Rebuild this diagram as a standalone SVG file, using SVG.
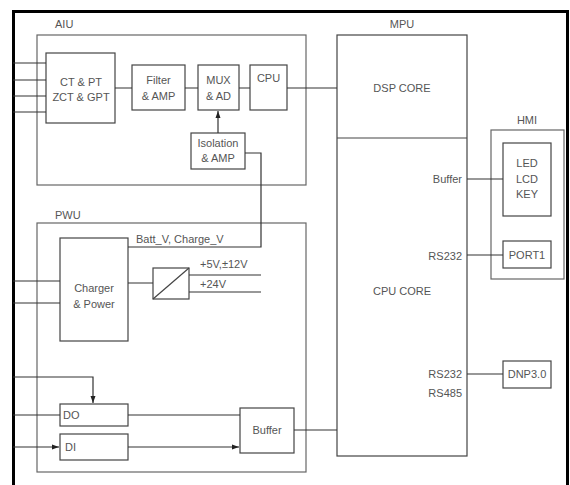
<svg xmlns="http://www.w3.org/2000/svg" width="570" height="485" viewBox="0 0 570 485">
<style>
.b{fill:none;stroke:#444;stroke-width:1.2}
.g{fill:none;stroke:#666;stroke-width:1.2}
.l{fill:none;stroke:#333;stroke-width:1.2}
text{font-family:"Liberation Sans",Arial,sans-serif;font-size:11px;fill:#555}
.c{text-anchor:middle}
.r{text-anchor:end}
</style>
<defs>
<marker id="a" markerWidth="8" markerHeight="6" refX="7" refY="3" orient="auto" markerUnits="userSpaceOnUse">
<path d="M0,0.5 L7,3 L0,5.5 Z" fill="#222"/>
</marker>
</defs>
<rect width="570" height="485" fill="#fff"/>
<path d="M13.5,485 V11.5 H567.5 V485" fill="none" stroke="#000" stroke-width="3"/>

<g id="aiu">
<rect class="g" x="37" y="35" width="269" height="150"/>
<text x="55" y="28">AIU</text>
</g>
<g id="ctpt">
<rect class="b" x="46" y="53" width="69" height="70"/>
<text class="c" x="81" y="86">CT &amp; PT</text>
<text class="c" x="81" y="101">ZCT &amp; GPT</text>
</g>
<g id="filter">
<rect class="b" x="132" y="65" width="53" height="45"/>
<text class="c" x="158.5" y="84">Filter</text>
<text class="c" x="158.5" y="100">&amp; AMP</text>
</g>
<g id="mux">
<rect class="b" x="198" y="65" width="41" height="45"/>
<text class="c" x="218.5" y="84">MUX</text>
<text class="c" x="218.5" y="100">&amp; AD</text>
</g>
<g id="cpu">
<rect class="b" x="250" y="65" width="37" height="45"/>
<text class="c" x="268.5" y="82">CPU</text>
</g>
<g id="iso">
<rect class="b" x="191" y="133" width="54" height="36"/>
<text class="c" x="218" y="147">Isolation</text>
<text class="c" x="218" y="162">&amp; AMP</text>
</g>

<g id="mpu">
<rect class="b" x="337" y="35" width="130" height="421"/>
<line class="b" x1="337" y1="138" x2="467" y2="138"/>
<text class="c" x="402" y="28">MPU</text>
<text class="c" x="402" y="92">DSP CORE</text>
<text class="c" x="402" y="295">CPU CORE</text>
<text class="r" x="462" y="183">Buffer</text>
<text class="r" x="462" y="260">RS232</text>
<text class="r" x="462" y="378">RS232</text>
<text class="r" x="462" y="397">RS485</text>
</g>

<g id="hmi">
<rect class="g" x="491" y="130" width="73" height="149"/>
<text class="c" x="527" y="124">HMI</text>
</g>
<g id="ledlcd">
<rect class="b" x="503" y="143" width="48" height="73"/>
<text class="c" x="527" y="167">LED</text>
<text class="c" x="527" y="183">LCD</text>
<text class="c" x="527" y="198">KEY</text>
</g>
<g id="port1">
<rect class="b" x="503" y="241" width="48" height="27"/>
<text class="c" x="527" y="259">PORT1</text>
</g>
<g id="dnp">
<rect class="b" x="503" y="361" width="48" height="27"/>
<text class="c" x="527" y="378">DNP3.0</text>
</g>

<g id="pwu">
<rect class="g" x="37" y="223" width="269" height="249"/>
<text x="55" y="219">PWU</text>
</g>
<g id="charger">
<rect class="b" x="60" y="238" width="68" height="103"/>
<text class="c" x="94" y="292">Charger</text>
<text class="c" x="94" y="308">&amp; Power</text>
</g>
<g id="conv">
<rect class="b" x="153" y="268" width="36" height="31"/>
<line class="b" x1="153" y1="299" x2="189" y2="268"/>
</g>
<g id="do">
<rect class="b" x="60" y="404" width="68" height="22"/>
<text x="63" y="419">DO</text>
</g>
<g id="di">
<rect class="b" x="60" y="434" width="68" height="26"/>
<text x="65" y="451">DI</text>
</g>
<g id="buffer">
<rect class="b" x="240" y="408" width="54" height="45"/>
<text class="c" x="267" y="434">Buffer</text>
</g>

<g id="connectors">
<path class="l" d="M13,63 H46 M13,80 H46 M13,96 H46 M13,112 H46"/>
<path class="l" d="M115,88 H132 M185,88 H198 M239,88 H250 M287,88 H337"/>
<path class="l" d="M218,133 V111" marker-end="url(#a)"/>
<path class="l" d="M245,153 H261 V247 H128"/>
<text x="136" y="243">Batt_V, Charge_V</text>
<path class="l" d="M467,179 H503 M467,255 H503 M467,374 H503"/>
<path class="l" d="M13,281 H60 M13,303 H60 M128,283 H153"/>
<path class="l" d="M189,275 H261 M189,292 H261"/>
<text x="200" y="268">+5V,±12V</text>
<text x="200" y="288">+24V</text>
<path class="l" d="M13,377 H93 V403" marker-end="url(#a)"/>
<path class="l" d="M13,415 H60"/>
<path class="l" d="M13,447 H59" marker-end="url(#a)"/>
<path class="l" d="M128,415 H240"/>
<path class="l" d="M128,447 H239" marker-end="url(#a)"/>
<path class="l" d="M294,430 H337"/>
</g>
</svg>
